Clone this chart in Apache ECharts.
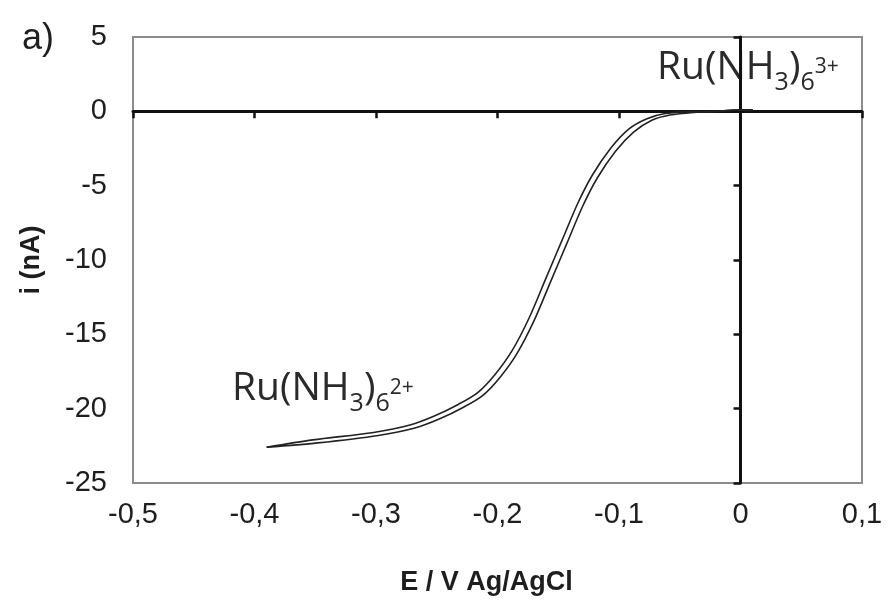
<!DOCTYPE html>
<html>
<head>
<meta charset="utf-8">
<script src="https://cdn.jsdelivr.net/npm/echarts@6/dist/echarts.min.js"></script>
<style>
html,body{margin:0;padding:0;background:#fff;}
#chart{width:888px;height:601px;}
</style>
</head>
<body>
<div id="chart"></div>
<script>
// ---- data ----
const xTickLabels = ['-0,5', '-0,4', '-0,3', '-0,2', '-0,1', '0', '0,1'];
const yTickLabels = ['-25', '-20', '-15', '-10', '-5', '0', '5'];

// scan 1 (left / upper trace)
const scan1E = [-0.390, -0.352, -0.302, -0.272, -0.252, -0.232, -0.216, -0.202, -0.188, -0.174, -0.160, -0.147, -0.134, -0.122, -0.107, -0.092, -0.077, -0.062, -0.042, -0.020, 0.000, 0.010];
const scan1I = [-22.6, -22.1, -21.6, -21.1, -20.5, -19.7, -18.9, -17.7, -16.1, -13.9, -11.2, -8.7, -6.2, -4.3, -2.5, -1.2, -0.5, -0.15, -0.03, 0.0, 0.1, 0.1];
// scan 2 (right / lower trace)
const scan2E = [-0.390, -0.348, -0.298, -0.268, -0.248, -0.228, -0.212, -0.198, -0.184, -0.170, -0.156, -0.143, -0.130, -0.118, -0.103, -0.088, -0.073, -0.058, -0.038, -0.020, 0.000, 0.010];
const scan2I = [-22.6, -22.3, -21.8, -21.3, -20.7, -19.9, -19.1, -17.9, -16.3, -14.1, -11.4, -8.9, -6.4, -4.5, -2.7, -1.4, -0.6, -0.25, -0.07, 0.0, 0.1, 0.1];

const panelLabel = 'a)';
const xName = 'E / V Ag/AgCl';
const yName = 'i (nA)';
// annotation pieces: [text, role]  role: m = main, s = subscript, p = superscript
const oxidisedLabel = [['Ru(NH', 'm'], ['3', 's'], [')', 'm'], ['6', 's'], ['3+', 'p']];
const reducedLabel  = [['Ru(NH', 'm'], ['3', 's'], [')', 'm'], ['6', 's'], ['2+', 'p']];

function pairs(xs, ys) { return xs.map((x, k) => [x, ys[k]]); }

const chart = echarts.init(document.getElementById('chart'), null, {renderer: 'canvas'});

const labelFont = {fontFamily: 'Liberation Sans', fontSize: 29, color: '#1e1e1e'};
const xFmt = v => xTickLabels[Math.round((v + 0.5) / 0.1)];
const yFmt = v => yTickLabels[Math.round((v + 25) / 5)];

// rich chemical label built from separate text pieces
const roleStyle = {m: {size: 39, shift: 0}, s: {size: 25, shift: 10}, p: {size: 21, shift: -8}};
const mctx = document.createElement('canvas').getContext('2d');
function measure(t, size) { mctx.font = size + 'px "Open Sans"'; return mctx.measureText(t).width; }
function chemLabel(pieces, left, baseline) {
  const children = [];
  let x = 0;
  pieces.forEach(([t, role]) => {
    const st = roleStyle[role];
    children.push({
      type: 'text', x: x, y: baseline + st.shift - 0.35 * st.size,
      style: {text: t, fontFamily: 'Open Sans', fontSize: st.size, fill: '#2a2a2a', verticalAlign: 'middle', align: 'left'}
    });
    x += measure(t, st.size);
  });
  return {type: 'group', x: left, y: 0, z: 10, children: children};
}

chart.setOption({
  animation: false,
  backgroundColor: '#ffffff',
  grid: {left: 133, right: 26, top: 37, bottom: 113, show: true, borderColor: '#8c8c8c', borderWidth: 2, backgroundColor: 'transparent'},
  xAxis: [
    {
      type: 'value', min: -0.5, max: 0.1, interval: 0.1, position: 'bottom',
      axisLine: {show: false}, axisTick: {show: false}, splitLine: {show: false},
      axisLabel: Object.assign({formatter: xFmt, margin: 17, showMinLabel: true, showMaxLabel: true}, labelFont),
      name: xName, nameLocation: 'middle', nameGap: 86,
      nameTextStyle: {fontFamily: 'Liberation Sans', fontWeight: 'bold', fontSize: 27, color: '#1e1e1e', padding: [0, 22, 0, 0]}
    },
    {
      type: 'value', min: -0.5, max: 0.1, interval: 0.1, position: 'bottom',
      axisLine: {show: true, onZero: true, lineStyle: {color: '#111', width: 3}},
      axisTick: {show: true, length: 7, lineStyle: {color: '#111', width: 2.5}},
      axisLabel: {show: false}, splitLine: {show: false}
    }
  ],
  yAxis: [
    {
      type: 'value', min: -25, max: 5, interval: 5, position: 'left',
      axisLine: {show: false}, axisTick: {show: false}, splitLine: {show: false},
      axisLabel: Object.assign({formatter: yFmt, margin: 26}, labelFont),
      name: yName, nameLocation: 'middle', nameGap: 88, nameRotate: 90,
      nameTextStyle: {fontFamily: 'Liberation Sans', fontWeight: 'bold', fontSize: 27, color: '#1e1e1e'}
    },
    {
      type: 'value', min: -25, max: 5, interval: 5, position: 'left',
      axisLine: {show: true, onZero: true, lineStyle: {color: '#111', width: 3}},
      axisTick: {show: true, length: 7, lineStyle: {color: '#111', width: 2.5}},
      axisLabel: {show: false}, splitLine: {show: false}
    }
  ],
  series: [
    {type: 'line', xAxisIndex: 0, yAxisIndex: 0, data: pairs(scan1E, scan1I), smooth: 0.3, showSymbol: false,
     lineStyle: {color: '#222', width: 1.6}, z: 5},
    {type: 'line', xAxisIndex: 0, yAxisIndex: 0, data: pairs(scan2E, scan2I), smooth: 0.3, showSymbol: false,
     lineStyle: {color: '#222', width: 1.6}, z: 5}
  ],
  graphic: [
    {type: 'text', left: 22, top: 21, style: {text: panelLabel, fontFamily: 'Liberation Sans', fontSize: 36, fill: '#1e1e1e'}},
    chemLabel(oxidisedLabel, 657, 82),
    chemLabel(reducedLabel, 232, 403)
  ]
});
</script>
</body>
</html>
